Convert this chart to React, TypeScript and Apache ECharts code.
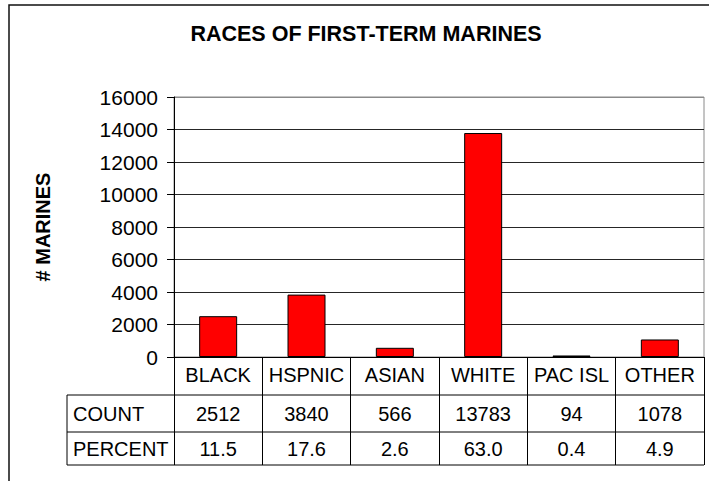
import React, { useEffect, useRef } from "react";
import * as echarts from "echarts";

const title = "RACES OF FIRST-TERM MARINES";
const yAxisTitle = "# MARINES";
const categories = ["BLACK", "HSPNIC", "ASIAN", "WHITE", "PAC ISL", "OTHER"];
const counts = [2512, 3840, 566, 13783, 94, 1078];
const percents = ["11.5", "17.6", "2.6", "63.0", "0.4", "4.9"];
const rowLabels = ["COUNT", "PERCENT"];
const yMin = 0;
const yMax = 16000;
const yInterval = 2000;

const FONT = "'Liberation Sans', Arial, sans-serif";

export default function App() {
  const ref = useRef<HTMLDivElement>(null);
  useEffect(() => {
    document.body.style.margin = "0";
    if (!ref.current) return;
    const chart = echarts.init(ref.current, null, { renderer: "svg" });
    const gridLeft = 174;
    const gridTop = 97;
    const gridRight = 704;
    const gridBottom = 357;
    const tableLeft = 67;
    const rowLines = [395, 432, 465];
    const nSplit = (yMax - yMin) / yInterval + 1;
    const splitColors = Array.from({ length: nSplit }, (_, i) =>
      i === nSplit - 1 ? "#8a8a8a" : "#262626"
    );
    chart.setOption({
      animation: false,
      backgroundColor: "#fff",
      textStyle: { fontFamily: FONT },
      grid: {
        left: gridLeft,
        top: gridTop,
        width: gridRight - gridLeft,
        height: gridBottom - gridTop,
        show: true,
        borderColor: "#8a8a8a",
        borderWidth: 1,
      },
      xAxis: {
        type: "category",
        data: categories,
        axisLine: { lineStyle: { color: "#000", width: 1 } },
        axisTick: {
          show: true,
          interval: 0,
          length: rowLines[2] - gridBottom,
          lineStyle: { color: "#000", width: 1 },
        },
        axisLabel: {
          interval: 0,
          fontSize: 20,
          color: "#000",
          margin: 8,
          fontFamily: FONT,
        },
      },
      yAxis: {
        type: "value",
        min: yMin,
        max: yMax,
        interval: yInterval,
        name: yAxisTitle,
        nameLocation: "middle",
        nameRotate: 90,
        nameGap: 121,
        nameTextStyle: { fontSize: 20, fontWeight: "bold", color: "#000", fontFamily: FONT },
        axisLine: { show: true, lineStyle: { color: "#000", width: 1 } },
        axisTick: { show: true, length: 7, lineStyle: { color: "#000" } },
        axisLabel: {
          fontSize: 21,
          color: "#000",
          margin: 16,
          fontFamily: FONT,
          formatter: (v: number) => String(v),
        },
        splitLine: { show: true, lineStyle: { color: splitColors, width: 1 } },
      },
      series: [
        {
          type: "bar",
          data: counts,
          barWidth: 38,
          itemStyle: { color: "#ff0000", borderColor: "#000", borderWidth: 1 },
        },
      ],
    });

    const graphics: any[] = [
      {
        type: "rect",
        shape: { x: 9, y: 5, width: 900, height: 700 },
        style: { fill: "none", stroke: "#111", lineWidth: 1.5 },
        silent: true,
      },
      {
        type: "text",
        x: 366,
        y: 34,
        style: {
          text: title,
          fontSize: 21.5,
          fontWeight: "bold",
          fill: "#000",
          fontFamily: FONT,
          align: "center",
          verticalAlign: "middle",
        },
      },
    ];
    rowLines.forEach((y) => {
      graphics.push({
        type: "line",
        shape: { x1: tableLeft, y1: y, x2: gridRight, y2: y },
        style: { stroke: "#000", lineWidth: 1 },
      });
    });
    graphics.push({
      type: "line",
      shape: { x1: tableLeft, y1: rowLines[0], x2: tableLeft, y2: rowLines[2] },
      style: { stroke: "#000", lineWidth: 1 },
    });
    const rows = [counts.map((v) => String(v)), percents];
    rows.forEach((vals, r) => {
      const yc = (rowLines[r] + rowLines[r + 1]) / 2;
      graphics.push({
        type: "text",
        x: tableLeft + 6,
        y: yc,
        style: {
          text: rowLabels[r],
          fontSize: 20,
          fill: "#000",
          fontFamily: FONT,
          align: "left",
          verticalAlign: "middle",
        },
      });
      vals.forEach((v, i) => {
        const px = chart.convertToPixel({ xAxisIndex: 0 }, categories[i]) as number;
        graphics.push({
          type: "text",
          x: px,
          y: yc,
          style: {
            text: v,
            fontSize: 20,
            fill: "#000",
            fontFamily: FONT,
            align: "center",
            verticalAlign: "middle",
          },
        });
      });
    });
    chart.setOption({ graphic: graphics });
    return () => chart.dispose();
  }, []);
  return <div ref={ref} style={{ width: 709, height: 481 }} />;
}
